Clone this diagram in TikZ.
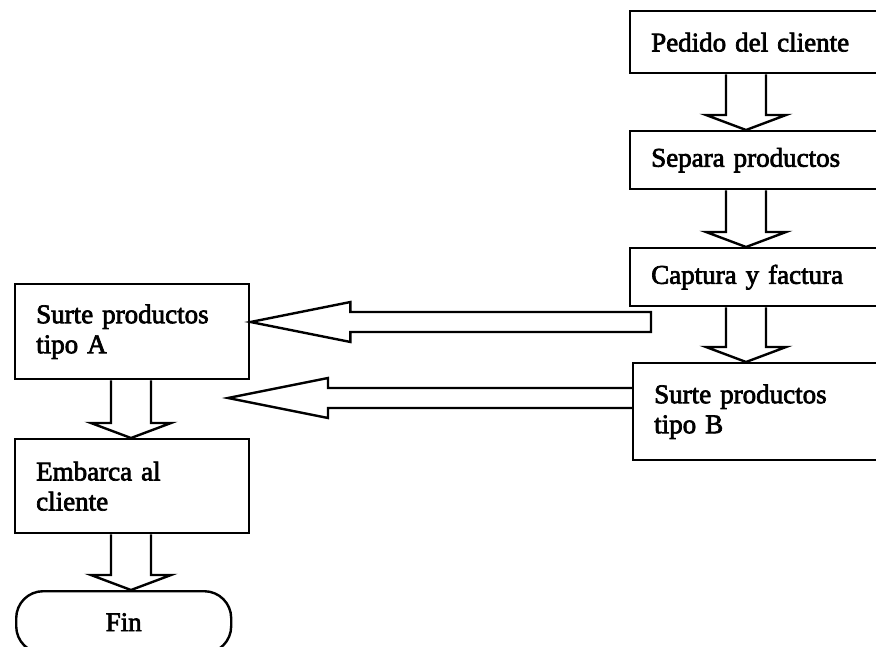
\documentclass[tikz,border=0pt]{standalone}
\usepackage{fontspec}
\setmainfont{Liberation Serif}[FakeBold=2.6]
\usetikzlibrary{calc}

% vertical hollow block arrow from the bottom of #1 to the top of #2, on column #3
\newcommand\vconn[3]{%
  \draw[blockarrow] let \p1=(#1.south -| #3), \p2=(#2.north -| #3) in
    (\x1-20pt,\y1) -- (\x1-20pt,\y2+15pt) -- (\x1-40pt,\y2+15pt) -- (\x2,\y2)
    -- (\x1+40pt,\y2+15pt) -- (\x1+20pt,\y2+15pt) -- (\x1+20pt,\y1);
}
% horizontal hollow block arrow, open tail at #1, tip at #2 (pointing left)
\newcommand\hconn[2]{%
  \draw[blockarrow] let \p1=(#1), \p2=(#2) in
    (\x1,\y1-10pt) -- (\x2+100pt,\y1-10pt) -- (\x2+100pt,\y1-20pt) -- (\x2,\y2)
    -- (\x2+100pt,\y1+20pt) -- (\x2+100pt,\y1+10pt) -- (\x1,\y1+10pt);
}
% same, with a closed tail
\newcommand\hconnclosed[2]{%
  \draw[blockarrow] let \p1=(#1), \p2=(#2) in
    (\x1,\y1-10pt) -- (\x2+100pt,\y1-10pt) -- (\x2+100pt,\y1-20pt) -- (\x2,\y2)
    -- (\x2+100pt,\y1+20pt) -- (\x2+100pt,\y1+10pt) -- (\x1,\y1+10pt) -- cycle;
}

\begin{document}
\begin{tikzpicture}[x=1pt,y=-1pt,
  every node/.style={font=\fontsize{27}{30}\selectfont},
  stepbox/.style={draw, line width=2.4pt, rectangle, anchor=north west,
    inner xsep=21pt, inner ysep=0pt, align=left},
  rbox/.style={stepbox, text width=229pt},
  lbox/.style={stepbox, text width=192pt},
  endbox/.style={draw, line width=2.4pt, rectangle, rounded corners=27pt,
    anchor=north west, minimum width=215pt, minimum height=62pt, inner sep=0pt},
  blockarrow/.style={draw, line width=2.4pt, line join=miter}]
  \useasboundingbox (0,0) rectangle (876,647);
  \clip (0,0) rectangle (876,647);

  % right column
  \node[rbox, minimum height=62pt] (pedido)  at (629,10)  {Pedido del cliente};
  \node[rbox, minimum height=58pt] (separa)  at (629,130) {Separa productos};
  \node[rbox, minimum height=58pt] (captura) at (629,247) {Captura y factura};
  \node[rbox, text width=226pt, minimum height=97pt] (tipob) at (632,362)
    {Surte productos\\tipo B};

  % left column
  \node[lbox, minimum height=95pt] (tipoa)   at (14,283) {Surte productos\\tipo A};
  \node[lbox, minimum height=94pt] (embarca) at (14,438) {Embarca al\\cliente};
  \node[endbox] (fin) at (15,590) {Fin};

  % arrow columns and free ends
  \coordinate (rcol) at (746,0);
  \coordinate (lcol) at (131,0);
  \coordinate (tailup) at (651,322);
  \coordinate (lowy) at (0,398);
  \coordinate (lowtip) at (228,398);

  \vconn{pedido}{separa}{rcol}
  \vconn{separa}{captura}{rcol}
  \vconn{captura}{tipob}{rcol}
  \vconn{tipoa}{embarca}{lcol}
  \vconn{embarca}{fin}{lcol}

  \hconnclosed{tailup}{tipoa.east |- tailup}
  \hconn{tipob.west |- lowy}{lowtip}
\end{tikzpicture}
\end{document}
